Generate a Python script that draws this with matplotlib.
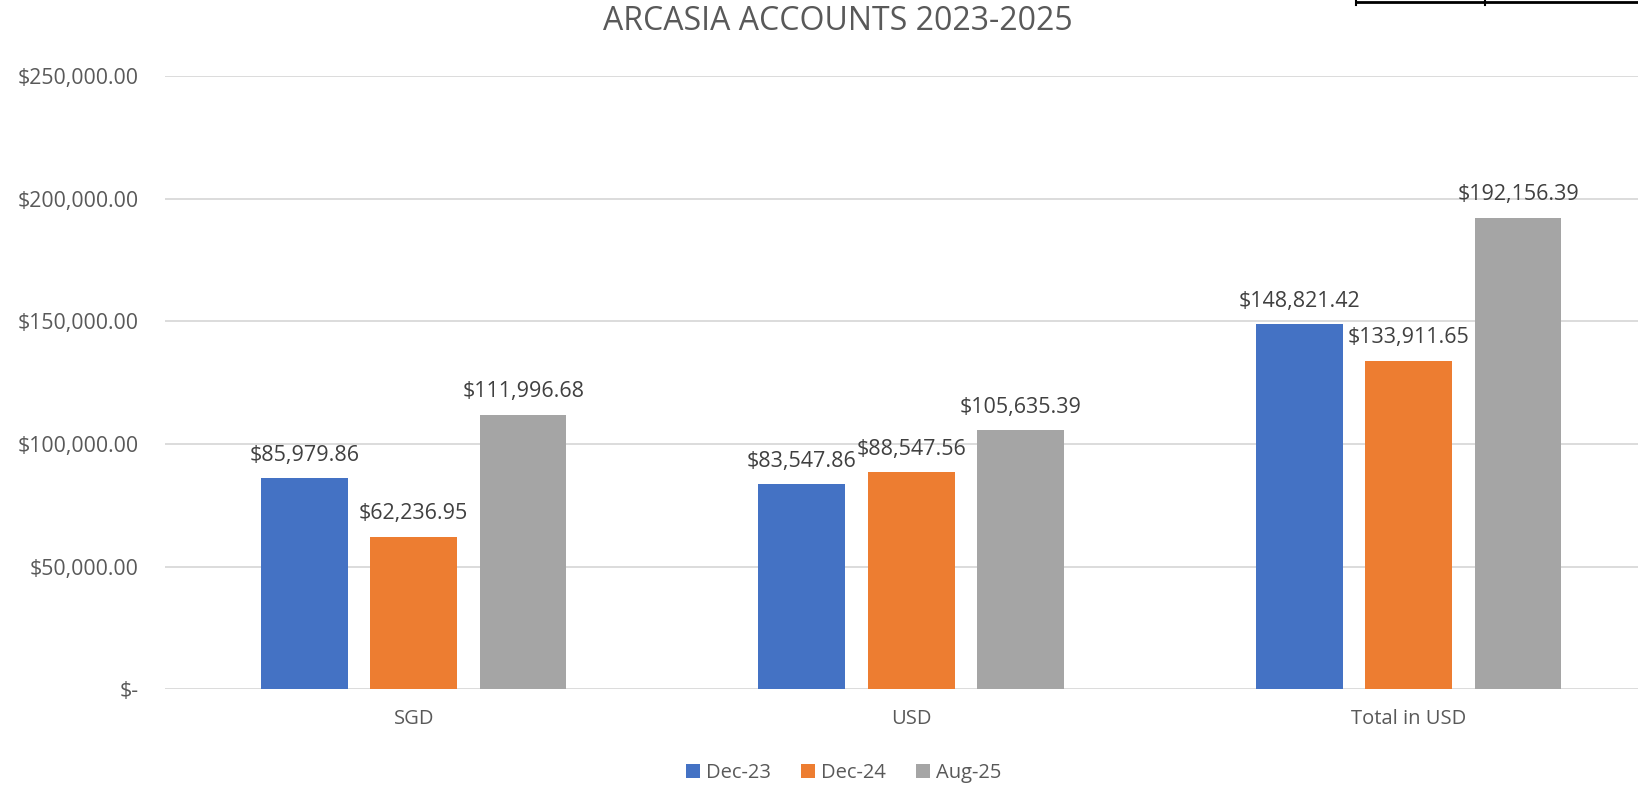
import numpy as np
import matplotlib.pyplot as plt
from matplotlib.ticker import FuncFormatter

categories = ['SGD', 'USD', 'Total in USD']
series_names = ['Dec-23', 'Dec-24', 'Aug-25']
dec23 = [85979.86, 83547.86, 148821.42]
dec24 = [62236.95, 88547.56, 133911.65]
aug25 = [111996.68, 105635.39, 192156.39]
colors = ['#4472C4', '#ED7D31', '#A5A5A5']

plt.rcParams['font.family'] = ['Open Sans', 'DejaVu Sans']
text_color = '#595959'

fig = plt.figure(figsize=(16.38, 7.85), dpi=100)
ax = fig.add_axes([0.1007, 0.1217, 0.9112, 0.7815])

x = np.arange(len(categories))
width = 0.174
step = 0.22
for i, (vals, name, c) in enumerate(zip([dec23, dec24, aug25], series_names, colors)):
    bars = ax.bar(x + (i - 1) * step, vals, width, color=c, label=name, zorder=3)
    for b, v in zip(bars, vals):
        ax.annotate(f'${v:,.2f}', (b.get_x() + b.get_width() / 2, v),
                    xytext=(0, 9), textcoords='offset points',
                    ha='center', va='bottom', fontsize=15.5, color='#404040')

ax.set_xlim(-0.5, 2.5)
ax.set_ylim(0, 250000)
ax.set_yticks(np.arange(0, 250001, 50000))
ax.yaxis.set_major_formatter(FuncFormatter(lambda v, p: '$-' if v == 0 else f'${v:,.2f}'))
ax.set_xticks(x)
ax.set_xticklabels(categories)
ax.tick_params(axis='both', length=0, labelsize=14.5, colors=text_color)
ax.tick_params(axis='y', pad=19, labelsize=15.3)
ax.tick_params(axis='x', pad=14)
ax.grid(axis='y', color='#d9d9d9', linewidth=1.3, zorder=0)
for s in ax.spines.values():
    s.set_visible(False)

fig.text(0.5115, 0.973, 'ARCASIA ACCOUNTS 2023-2025', ha='center', va='center',
         fontsize=23, color=text_color)

leg = fig.legend(loc='center', bbox_to_anchor=(0.515, 0.015), ncol=3, frameon=False,
                 fontsize=14.5, handlelength=0.7, handleheight=0.7, handletextpad=0.3,
                 columnspacing=1.5, labelcolor=text_color)

# cropped box remnant at top right
fig.add_artist(plt.Line2D([0.828, 1.0], [0.998, 0.998], transform=fig.transFigure, color='black', linewidth=2))
fig.add_artist(plt.Line2D([0.828, 0.828], [0.993, 1.0], transform=fig.transFigure, color='black', linewidth=1.5))
fig.add_artist(plt.Line2D([0.9066, 0.9066], [0.993, 1.0], transform=fig.transFigure, color='black', linewidth=1.5))

fig.savefig('out.png', dpi=100)
